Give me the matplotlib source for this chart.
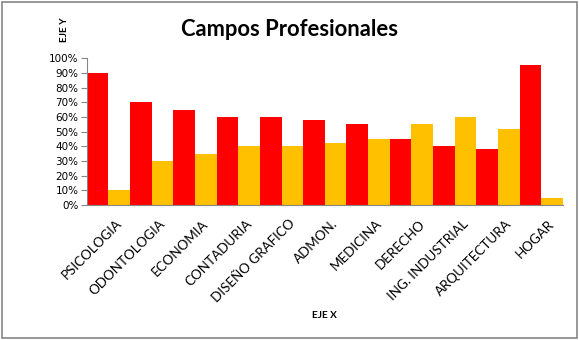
import matplotlib
matplotlib.use("Agg")
import matplotlib.pyplot as plt
import matplotlib.transforms as mtransforms
import numpy as np
from matplotlib.patches import Rectangle
from matplotlib.ticker import PercentFormatter

categorias = ["PSICOLOGIA", "ODONTOLOGIA", "ECONOMIA", "CONTADURIA", "DISEÑO GRAFICO",
              "ADMON.", "MEDICINA", "DERECHO", "ING. INDUSTRIAL", "ARQUITECTURA", "HOGAR"]
serie_roja = [90, 70, 65, 60, 60, 58, 55, 45, 40, 38, 95]
serie_amarilla = [10, 30, 35, 40, 40, 42, 45, 55, 60, 52, 5]

ROJO = "#FF0000"
AMARILLO = "#FFC000"
GRIS = "#868686"

fig = plt.figure(figsize=(5.79, 3.40), dpi=100)
ax = fig.add_axes([0.150, 0.397, 0.822, 0.432])

x = np.arange(len(categorias))
w = 0.5
ax.bar(x - w / 2, serie_roja, width=w, color=ROJO, linewidth=0)
ax.bar(x + w / 2, serie_amarilla, width=w, color=AMARILLO, linewidth=0)

ax.set_xlim(-0.5, len(categorias) - 0.5)
ax.set_ylim(0, 100)
ax.set_yticks(np.arange(0, 101, 10))
ax.yaxis.set_major_formatter(PercentFormatter(decimals=0))
ax.set_xticks(x)
ax.set_xticklabels(categorias, rotation=45, ha="right", rotation_mode="anchor",
                   family="Lato", fontsize=9.6)

ax.tick_params(axis="y", length=4, color=GRIS, labelsize=7.5, pad=2)
ax.tick_params(axis="x", length=0, pad=9)
# desplazar etiquetas del eje X un poco a la derecha
desplaza = mtransforms.ScaledTranslation(7 / 100, 0, fig.dpi_scale_trans)
for lbl in ax.get_xticklabels():
    lbl.set_transform(lbl.get_transform() + desplaza)

for s in ["top", "right"]:
    ax.spines[s].set_visible(False)
for s in ["left", "bottom"]:
    ax.spines[s].set_color(GRIS)
    ax.spines[s].set_linewidth(0.8)

fig.text(0.5, 0.912, "Campos Profesionales", ha="center", va="center",
         fontsize=15.8, fontweight="bold", family="Lato")
fig.text(0.112, 0.913, "EJE Y", rotation=90, ha="center", va="center",
         fontsize=7.2, fontweight="bold", family="Lato")
fig.text(0.561, 0.073, "EJE X", ha="center", va="center",
         fontsize=7.2, fontweight="bold", family="Lato")

fig.patches.append(Rectangle((0.004, 0.006), 0.992, 0.988, transform=fig.transFigure,
                             fill=False, edgecolor=GRIS, linewidth=1.2))

fig.savefig("out.png", dpi=100)
